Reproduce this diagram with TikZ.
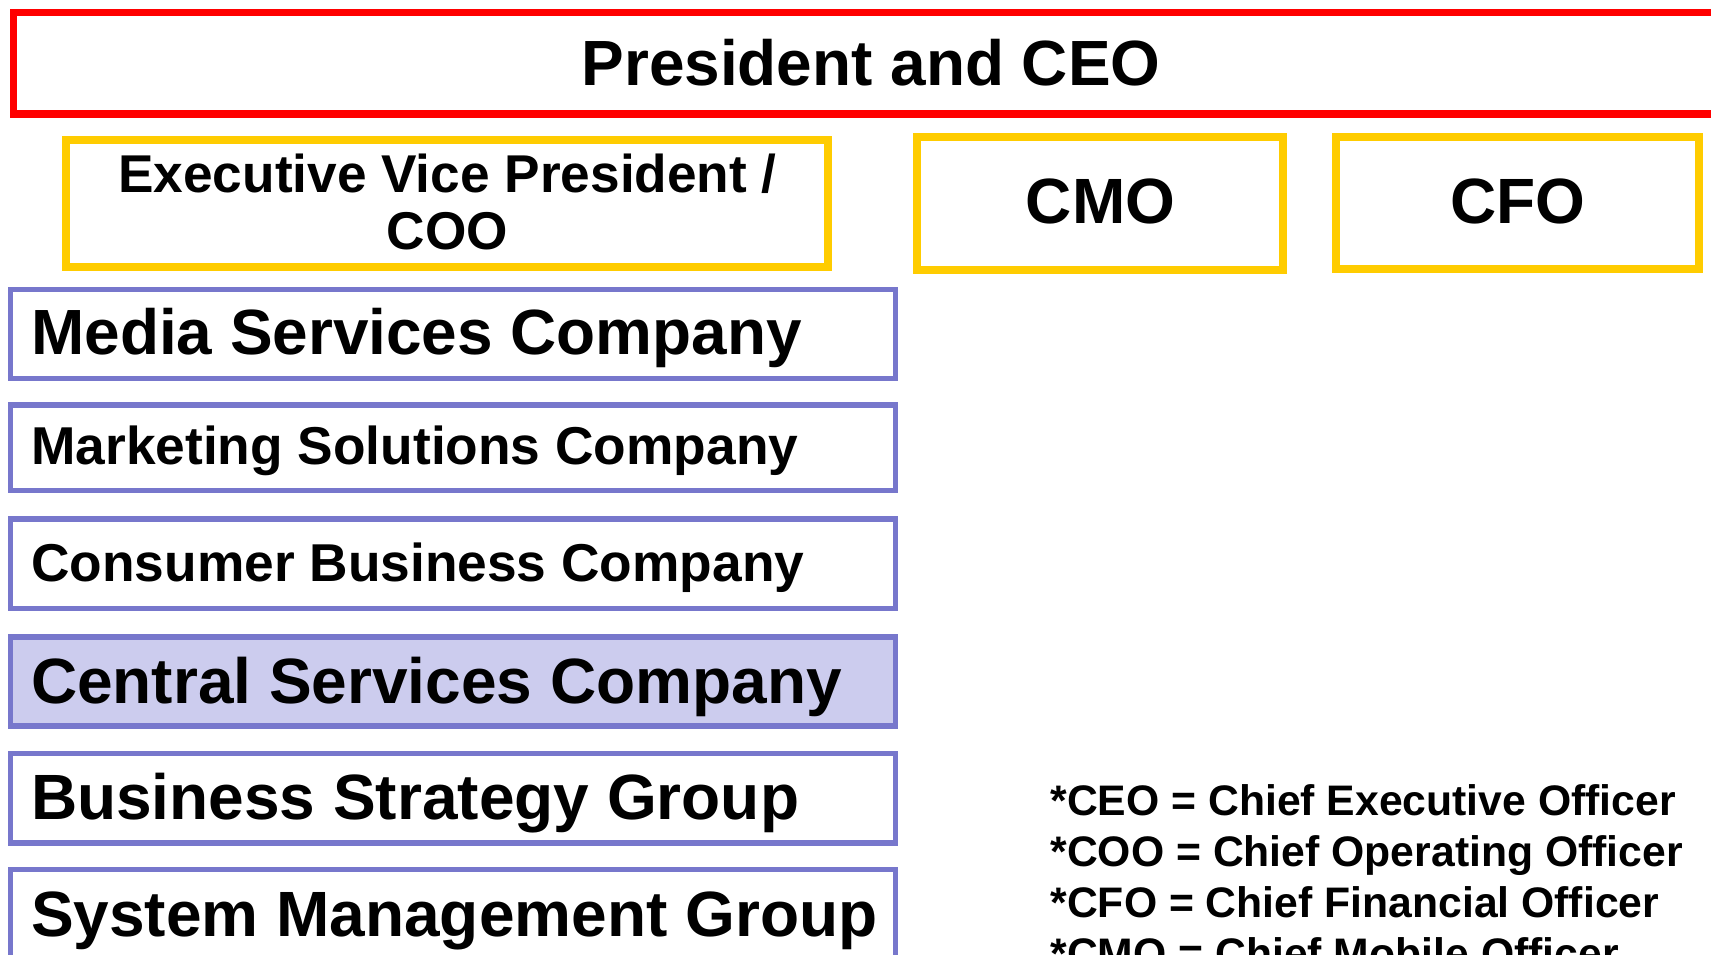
\documentclass[tikz,border=0pt]{standalone}
\usepackage{fontspec}
\setmainfont{Liberation Sans}
\definecolor{ceored}{HTML}{FF0000}
\definecolor{execyellow}{HTML}{FFCC00}
\definecolor{unitpurple}{HTML}{7777CC}
\definecolor{unitfill}{HTML}{CCCCEE}
\newcommand{\fs}[1]{\bfseries\fontsize{#1}{#1}\selectfont}
\begin{document}
\begin{tikzpicture}[x=1pt,y=-1pt,
  ceobox/.style={draw=ceored, line width=7.5pt, inner sep=0pt, rectangle},
  execbox/.style={draw=execyellow, line width=8pt, inner sep=0pt, rectangle},
  unitbox/.style={draw=unitpurple, line width=5.5pt, inner sep=0pt, rectangle, minimum width=885pt},
  txt/.style={inner sep=0pt, outer sep=0pt},
  unittxt/.style={txt, anchor=base west},
  legendtxt/.style={txt, anchor=base west, font=\fs{42.7}}
]
\useasboundingbox (0,0) rectangle (1711,955);
\clip (0,0) rectangle (1711,955);
\fill[white] (0,0) rectangle (1711,955);

% top level
\node[ceobox, minimum width=1716.5pt, minimum height=101.5pt] (ceo) at (871.75,63.25) {};
\node[txt, anchor=base, font=\fs{63.9}] (ceot) at (871,85.5) {President and CEO};

% executives
\node[execbox, minimum width=761.5pt, minimum height=127pt] (evp) at (446.75,203.5) {};
\node[txt, anchor=base, font=\fs{53.2}] (evpa) at (447.5,192.3) {Executive Vice President /};
\node[txt, anchor=base, font=\fs{53.2}] (evpb) at (447.5,249) {COO};

\node[execbox, minimum width=366pt, minimum height=132.5pt] (cmo) at (1100,203.25) {};
\node[txt, anchor=base, font=\fs{64}] (cmot) at (1100.5,223.3) {CMO};

\node[execbox, minimum width=363pt, minimum height=132pt] (cfo) at (1517.5,203) {};
\node[txt, anchor=base, font=\fs{64}] (cfot) at (1518,223.3) {CFO};

% business units
\node[unitbox, minimum height=88.8pt] (media) at (453,333.9) {};
\node[unittxt, font=\fs{63.9}] (mediat) at (31.3,354) {Media Services Company};

\node[unitbox, minimum height=85.5pt] (mkt) at (453,447.75) {};
\node[unittxt, font=\fs{53.3}] (mktt) at (31.3,464) {Marketing Solutions Company};

\node[unitbox, minimum height=89.7pt] (cons) at (453,563.85) {};
\node[unittxt, font=\fs{53.3}] (const) at (31.3,581.5) {Consumer Business Company};

\node[unitbox, fill=unitfill, minimum height=89pt] (central) at (453,681.5) {};
\node[unittxt, font=\fs{64}] (centralt) at (31,703.3) {Central Services Company};

\node[unitbox, minimum height=89.3pt] (bsg) at (453,798.35) {};
\node[unittxt, font=\fs{64}] (bsgt) at (31,819.3) {Business Strategy Group};

\node[unitbox, minimum height=89.3pt] (smg) at (453,914.35) {};
\node[unittxt, font=\fs{64}] (smgt) at (31,936) {System Management Group};

% legend
\node[legendtxt] (lg1) at (1050.5,815) {*CEO = Chief Executive Officer};
\node[legendtxt] (lg2) at (1050.5,866) {*COO = Chief Operating Officer};
\node[legendtxt] (lg3) at (1050.5,917) {*CFO = Chief Financial Officer};
\node[legendtxt] (lg4) at (1050.5,968) {*CMO = Chief Mobile Officer};
\end{tikzpicture}
\end{document}
